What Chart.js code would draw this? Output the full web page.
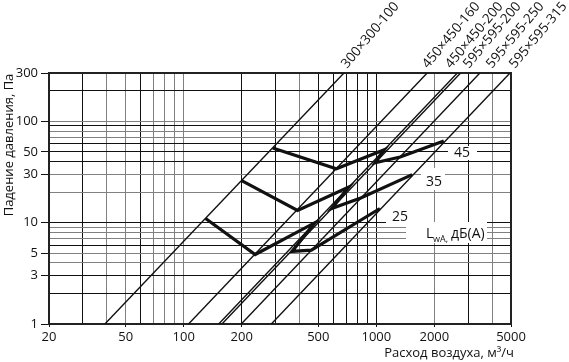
<!DOCTYPE html>
<html>
<head>
<meta charset="utf-8">
<script src="https://cdn.jsdelivr.net/npm/chart.js@4.4.1/dist/chart.umd.min.js"></script>
<style>
html, body { margin: 0; padding: 0; background: #fff; }
</style>
</head>
<body>
<canvas id="pressureChart" width="569" height="362"></canvas>
<script>
'use strict';

// diffuser sizes: flow (m3/h) where each line crosses 1 Pa and 300 Pa
const sizeNames = ['300×300-100', '450×450-160', '450×450-200', '595×595-200', '595×595-250', '595×595-315'];
const flowAt1Pa = [39, 106, 152, 158, 199, 285];
const flowAt300Pa = [679, 1836, 2633, 2737, 3447, 4940];

// noise level curves, one point per size line
const noiseLevels = ['45', '35', '25'];
const flow45 = [290, 620, 1100, 985, 1330, 2240];
const pres45 = [54.6, 34, 52.5, 39, 44.5, 64];
const flow35 = [200, 390, 720, 586, 830, 1535];
const pres35 = [26, 13.2, 22.5, 13.8, 17.5, 29.8];
const flow25 = [130, 235, 480, 365, 460, 1044];
const pres25 = [11, 4.85, 10, 5.2, 5.35, 13.8];

// axes
const xGrid = [20, 30, 40, 50, 60, 70, 80, 90, 100, 200, 300, 400, 500, 600, 700, 800, 900, 1000, 2000, 3000, 4000, 5000];
const xLabels = [20, 50, 100, 200, 500, 1000, 2000, 5000];
const xGreyLines = [40, 50, 70, 80, 90, 100, 400, 2000, 4000];
const yGrid = [1, 2, 3, 4, 5, 6, 7, 8, 9, 10, 20, 30, 40, 50, 60, 70, 80, 90, 100, 200, 300];
const yLabels = [1, 3, 5, 10, 30, 50, 100, 300];
const yGreyLines = [4, 5, 7, 8, 9, 20, 30, 70, 80, 100];

const ink = '#111';
const grey = '#808080';
const fontFamily = '"Open Sans", sans-serif';

const datasets = [];
sizeNames.forEach(function (name, i) {
	datasets.push({
		label: name,
		data: [{ x: flowAt1Pa[i], y: 1 }, { x: flowAt300Pa[i], y: 300 }],
		borderColor: ink,
		borderWidth: 1.4,
		pointRadius: 0,
		tension: 0,
	});
});
[[flow45, pres45], [flow35, pres35], [flow25, pres25]].forEach(function (pair, i) {
	datasets.push({
		label: noiseLevels[i],
		data: pair[0].map(function (q, k) { return { x: q, y: pair[1][k] }; }),
		borderColor: ink,
		borderWidth: 3.2,
		borderJoinStyle: 'miter',
		pointRadius: 0,
		tension: 0,
	});
});

const annotations = {
	id: 'annotations',
	beforeDatasetsDraw(chart) {
		const ctx = chart.ctx;
		const area = chart.chartArea;
		ctx.save();
		// white boxes behind level labels
		ctx.fillStyle = '#fff';
		ctx.fillRect(448, 146, 29, 14);
		ctx.fillRect(421, 168, 24, 22);
		ctx.fillRect(386, 208, 24, 16);
		ctx.fillRect(406, 222, 81, 21);

		ctx.fillStyle = ink;
		ctx.font = '14px ' + fontFamily;
		ctx.textAlign = 'center';
		ctx.textBaseline = 'middle';
		ctx.fillText('45', 462, 153);
		ctx.fillText('35', 434, 182);
		ctx.fillText('25', 400, 217);

		ctx.textAlign = 'left';
		ctx.textBaseline = 'alphabetic';
		ctx.font = '14px ' + fontFamily;
		ctx.fillText('L', 426, 238);
		ctx.font = '9px ' + fontFamily;
		ctx.fillText('wA,', 433, 242);
		ctx.font = '14px ' + fontFamily;
		ctx.fillText('дБ(A)', 451, 238);

		// frame
		ctx.strokeStyle = '#222';
		ctx.lineWidth = 2;
		ctx.strokeRect(area.left, area.top, area.right - area.left, area.bottom - area.top);
		ctx.restore();
	},
	afterDraw(chart) {
		const ctx = chart.ctx;
		ctx.save();
		ctx.fillStyle = ink;
		ctx.font = '13.5px ' + fontFamily;

		// size names above the top of the frame
		const nameX = [347, 428, 451, 469, 492, 515];
		sizeNames.forEach(function (name, i) {
			ctx.save();
			ctx.translate(nameX[i], 69);
			ctx.rotate(-50 * Math.PI / 180);
			ctx.textAlign = 'left';
			ctx.textBaseline = 'alphabetic';
			ctx.fillText(name, 0, 0);
			ctx.restore();
		});

		// axis titles
		ctx.font = '13px ' + fontFamily;
		ctx.textAlign = 'right';
		ctx.textBaseline = 'alphabetic';
		ctx.fillText('Расход воздуха, м³/ч', 514, 357);

		ctx.save();
		ctx.translate(13, 145);
		ctx.rotate(-Math.PI / 2);
		ctx.textAlign = 'center';
		ctx.fillText('Падение давления, Па', 0, 0);
		ctx.restore();
		ctx.restore();
	},
};

new Chart(document.getElementById('pressureChart'), {
	type: 'line',
	data: { datasets: datasets },
	options: {
		responsive: false,
		animation: false,
		devicePixelRatio: 1,
		layout: { padding: { left: 0, right: 58, top: 73, bottom: 0 } },
		plugins: { legend: { display: false }, tooltip: { enabled: false } },
		scales: {
			x: {
				type: 'logarithmic',
				min: 20,
				max: 5000,
				afterBuildTicks: function (s) { s.ticks = xGrid.map(function (v) { return { value: v }; }); },
				afterFit: function (s) { s.height = 38; },
				border: { display: false },
				grid: {
					lineWidth: 1,
					tickLength: 3,
					color: function (c) {
						const v = c.tick && c.tick.value;
						if (v === 20 || v === 5000) return 'transparent';
						return xGreyLines.includes(v) ? grey : ink;
					},
					tickColor: function (c) {
						return c.tick && xLabels.includes(c.tick.value) ? ink : 'transparent';
					},
				},
				ticks: {
					autoSkip: false,
					maxRotation: 0,
					padding: 2,
					color: ink,
					font: { family: fontFamily, size: 13 },
					callback: function (v) { return xLabels.includes(v) ? String(v) : ''; },
				},
			},
			y: {
				type: 'logarithmic',
				min: 1,
				max: 300,
				afterBuildTicks: function (s) { s.ticks = yGrid.map(function (v) { return { value: v }; }); },
				afterFit: function (s) { s.width = 49; },
				border: { display: false },
				grid: {
					lineWidth: 1,
					tickLength: 8,
					color: function (c) {
						const v = c.tick && c.tick.value;
						if (v === 1 || v === 300) return 'transparent';
						return yGreyLines.includes(v) ? grey : ink;
					},
					tickColor: function (c) {
						return c.tick && yLabels.includes(c.tick.value) ? ink : 'transparent';
					},
				},
				ticks: {
					autoSkip: false,
					padding: 3,
					color: ink,
					font: { family: fontFamily, size: 13 },
					callback: function (v) { return yLabels.includes(v) ? String(v) : ''; },
				},
			},
		},
	},
	plugins: [annotations],
});
</script>
</body>
</html>
